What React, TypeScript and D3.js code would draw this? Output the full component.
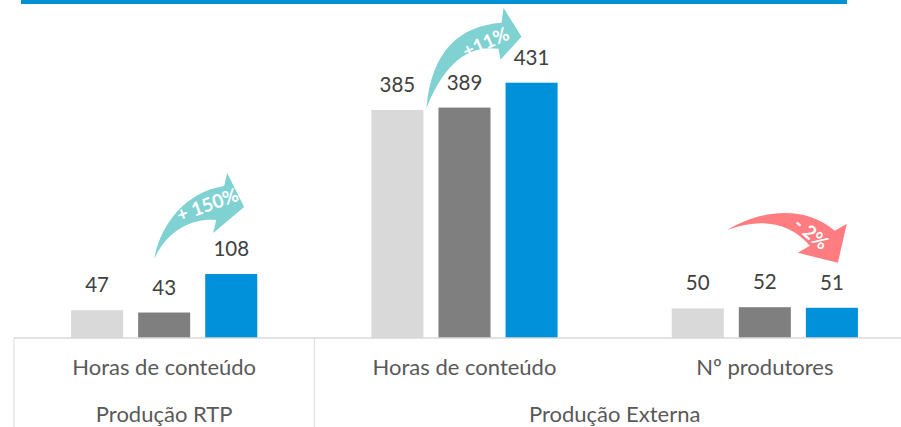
import React from "react";
import * as d3 from "d3";

const categoryIds = ["rtp_horas", "ext_horas", "ext_prod"];
const categoryLabels = ["Horas de conteúdo", "Horas de conteúdo", "Nº produtores"];
const groupLabels = ["Produção RTP", "Produção Externa"];
const groupSpans = [[0, 0], [1, 2]];
const seriesNames = ["2019", "2020", "2021"];
const series2019 = [47, 385, 50];
const series2020 = [43, 389, 52];
const series2021 = [108, 431, 51];
const seriesColors = ["#D9D9D9", "#7F7F7F", "#0091DA"];
const changeLabels = ["+ 150%", "+11%", "- 2%"];
const changeColors = ["#7FD1D2", "#7FD1D2", "#FF7C80"];

const W = 901;
const H = 427;
const FONT = "Lato, 'Open Sans', sans-serif";

// arrow shapes in local coordinates, relative to group centre / top of latest bar
const arrowShapes = [
  {
    path: "M-10,-15 C-4,-49 21,-82 60,-88 L63,-101 L80,-67 L49,-41 L52,-54 C31,-56 4,-46 -10,-15 Z",
    tx: 43, ty: -70, rot: -20,
  },
  {
    path: "M-38,25 C-33,-33 -4,-57 37,-60 L39,-75 L57,-46 L36,-23 L34,-34 C11,-37 -16,-29 -38,25 Z",
    tx: 21, ty: -41, rot: -24,
  },
  {
    path: "M-37,-78 C-5,-98 40,-103 70,-77 L82,-84 L73,-45 L33,-55 L45,-62 C25,-86 -5,-90 -37,-78 Z",
    tx: 47, ty: -75, rot: 40,
  },
];

export default function App() {
  const baseline = 338;
  const x = d3.scaleBand<string>().domain(categoryIds).range([14, 915]).padding(0);
  const inner = d3
    .scaleBand<string>()
    .domain(seriesNames)
    .range([0, x.bandwidth()])
    .paddingInner(0.224)
    .paddingOuter(0.851);
  const y = d3.scaleLinear().domain([0, 431]).range([baseline, 82.7]);
  const all = [series2019, series2020, series2021];

  return (
    <svg
      width={W}
      height={H}
      style={{ position: "absolute", left: 0, top: 0, background: "#fff" }}
      fontFamily={FONT}
    >
      <rect x={21} y={0} width={826} height={4} fill="#0091D5" />
      {categoryIds.map((c, ci) => (
        <g key={c} transform={`translate(${x(c)},0)`}>
          {seriesNames.map((s, si) => {
            const v = all[si][ci];
            const bx = inner(s)!;
            return (
              <g key={s}>
                <rect
                  x={bx}
                  y={y(v)}
                  width={inner.bandwidth()}
                  height={baseline - y(v)}
                  fill={seriesColors[si]}
                />
                <text
                  x={bx + inner.bandwidth() / 2}
                  y={y(v) - 18}
                  textAnchor="middle"
                  fontSize={20.5}
                  fill="#404040"
                >
                  {v}
                </text>
              </g>
            );
          })}
        </g>
      ))}
      {categoryIds.map((c, ci) => {
        const cx = x(c)! + x.bandwidth() / 2;
        const cy = y(series2021[ci]);
        const a = arrowShapes[ci];
        return (
          <g key={"a" + c} transform={`translate(${cx},${cy})`}>
            <path d={a.path} fill={changeColors[ci]} />
            <text
              transform={`translate(${a.tx},${a.ty}) rotate(${a.rot})`}
              textAnchor="middle"
              dominantBaseline="central"
              fontSize={19}
              fontWeight="bold"
              fill="#fff"
            >
              {changeLabels[ci]}
            </text>
          </g>
        );
      })}
      <line x1={14} x2={W} y1={baseline} y2={baseline} stroke="#D9D9D9" strokeWidth={1.5} />
      {[x(categoryIds[0])!, x(categoryIds[1])!].map((lx, i) => (
        <line key={i} x1={lx} x2={lx} y1={baseline} y2={H} stroke="#D9D9D9" strokeWidth={1} />
      ))}
      {categoryIds.map((c, ci) => (
        <text
          key={"l" + c}
          x={x(c)! + x.bandwidth() / 2}
          y={375}
          textAnchor="middle"
          fontSize={22}
          fill="#595959"
        >
          {categoryLabels[ci]}
        </text>
      ))}
      {groupLabels.map((g, gi) => {
        const [a, b] = groupSpans[gi];
        const gx = (x(categoryIds[a])! + x(categoryIds[b])! + x.bandwidth()) / 2;
        return (
          <text key={g} x={gx} y={422} textAnchor="middle" fontSize={22} fill="#595959">
            {g}
          </text>
        );
      })}
    </svg>
  );
}
